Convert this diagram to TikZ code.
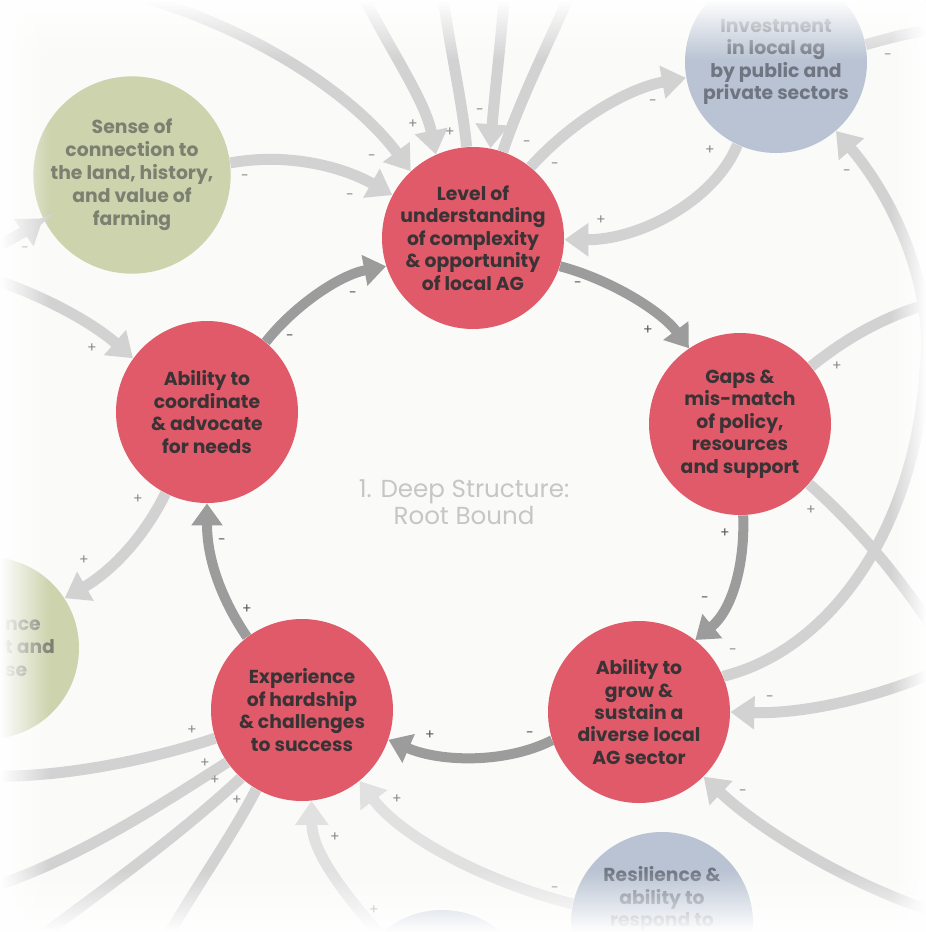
\documentclass[tikz,border=0pt]{standalone}
\usepackage{fontspec}
\setmainfont{Poppins}
\usepackage{tikz}
\usetikzlibrary{arrows.meta}
\usetikzlibrary{fadings}

\definecolor{bgwhite}{HTML}{FAFAF8}
\definecolor{corered}{HTML}{E05A69}
\definecolor{coretext}{HTML}{3A3336}
\definecolor{sagegreen}{HTML}{CCD3AD}
\definecolor{sagetext}{HTML}{7C8070}
\definecolor{slateblue}{HTML}{B9C3D3}
\definecolor{slatetext}{HTML}{6F7682}
\definecolor{loopgrey}{HTML}{9C9C9C}
\definecolor{sidegrey}{HTML}{D2D2D2}
\definecolor{palegrey}{HTML}{E1E1E1}
\definecolor{titlegrey}{HTML}{C6C6C6}
\definecolor{signdark}{HTML}{555555}
\definecolor{signgrey}{HTML}{8A8A8A}

\tikzstyle{mainline} = [draw=loopgrey, line width=5pt, -{Triangle[length=11pt,width=15pt]}]
\tikzstyle{sideline} = [draw=sidegrey, line width=5.5pt, -{Triangle[length=12pt,width=16pt]}]
\tikzstyle{paleline} = [draw=palegrey, line width=5.5pt, -{Triangle[length=12pt,width=16pt]}]
\tikzstyle{tailline} = [draw=sidegrey, line width=5.5pt]

\tikzfading[name=fadetop, top color=transparent!0, bottom color=transparent!100]
\tikzfading[name=fadebottom, top color=transparent!100, bottom color=transparent!0]
\tikzfading[name=fadeleft, left color=transparent!0, right color=transparent!100]
\tikzfading[name=faderight, left color=transparent!100, right color=transparent!0]

\begin{document}
\begin{tikzpicture}[x=0.5pt, y=-0.5pt,
		core/.style = {circle, fill=corered, minimum size=91pt, inner sep=0pt,
			align=center, text=coretext, font=\bfseries\fontsize{9.4}{11.2}\selectfont},
		sage/.style = {circle, fill=sagegreen, minimum size=91pt, inner sep=0pt,
			align=center, text=sagetext, font=\bfseries\fontsize{9.4}{11.5}\selectfont},
		slate/.style = {circle, fill=slateblue, minimum size=91pt, inner sep=0pt,
			align=center, text=slatetext, font=\bfseries\fontsize{9.4}{11.2}\selectfont},
		sign/.style = {inner sep=0pt, font=\fontsize{7}{7}\selectfont}]
	
	\useasboundingbox (0,0) rectangle (926,932);
	\clip (0,0) rectangle (926,932);
	\fill[bgwhite] (0,0) rectangle (926,932);
	
	% Loop variables
	\node[core] (level) at (473,238) {Level of\\understanding\\of complexity\\\& opportunity\\of local AG};
	\node[core] (gaps) at (740,424) {Gaps \&\\mis-match\\of policy,\\resources\\and support};
	\node[core] (grow) at (639,712) {Ability to\\grow \&\\sustain a\\diverse local\\AG sector};
	\node[core] (exper) at (302,710) {Experience\\of hardship\\\& challenges\\to success};
	\node[core] (coord) at (207,412) {Ability to\\coordinate\\\& advocate\\for needs};
	
	% Neighbouring variables
	\node[sage] (sense) at (132,175) {Sense of\\connection to\\the land, history,\\and value of\\farming};
	\node[sage] (greenleft) at (-12,648) {};
	\node[sage, anchor=west, minimum size=0pt, fill=none, align=left] (greenlefttxt) at (-8,648) {nce\\t and\\se};
	\node[slate] (invest) at (776,62) {Investment\\in local ag\\by public and\\private sectors};
	\node[slate] (resil) at (662,923) {};
	\node[slate, minimum size=0pt, fill=none] (resiltxt) at (662,899) {Resilience \&\\ability to\\respond to};
	\node[slate] (bluelow) at (442,1001) {};
	
	% Title
	\node[text=titlegrey, align=center, font=\fontsize{12.3}{13.5}\selectfont] (title) at (464,502) {1. Deep Structure:\\Root Bound};
	
	% Free ends at the edges
	\coordinate (nwA) at (115,-10);
	\coordinate (nA) at (360,-10);
	\coordinate (nB) at (442,-10);
	\coordinate (nC) at (505,-10);
	\coordinate (nD) at (572,-10);
	\coordinate (eA) at (935,30);
	\coordinate (eB) at (935,302);
	\coordinate (eC) at (935,632);
	\coordinate (eD) at (935,672);
	\coordinate (seA) at (935,912);
	\coordinate (sA) at (385,940);
	\coordinate (wA) at (-10,250);
	\coordinate (wB) at (-10,278);
	\coordinate (wC) at (-10,776);
	\coordinate (wD) at (-10,888);
	\coordinate (swA) at (15,955);
	\coordinate (swB) at (160,950);
	\coordinate (eastbend) at (925,370);
	
	% Main loop
	\path[mainline] (level.-18) .. controls (612,280) and (662,312) .. (gaps.124);
	\path[mainline] (gaps.-88) .. controls (745,565) and (732,610) .. (grow.52);
	\path[mainline] (grow.-162) .. controls (505,764) and (440,762) .. (exper.-19);
	\path[mainline] (exper.127) .. controls (222,600) and (207,560) .. (coord.-90);
	\path[mainline] (coord.50) .. controls (295,305) and (340,275) .. (level.198);
	
	% Links into level from the top and left
	\path[sideline] (sense.7) .. controls (290,152) and (345,168) .. (level.152);
	\path[sideline] (nwA) .. controls (240,20) and (350,90) .. (level.133);
	\path[sideline] (nA) .. controls (390,50) and (425,100) .. (level.114);
	\path[tailline] (level.94) .. controls (462,100) and (450,50) .. (nB);
	\path[sideline] (nC) .. controls (500,50) and (494,100) .. (level.79);
	\path[tailline] (level.71) .. controls (520,100) and (550,40) .. (nD);
	
	% Level and investment
	\path[sideline] (level.51) .. controls (575,118) and (630,88) .. (invest.190);
	\path[sideline] (invest.245) .. controls (715,200) and (640,240) .. (level.-1);
	\path[tailline] (invest.11) .. controls (890,38) and (910,32) .. (eA);
	\path[sideline] (grow.23) .. controls (830,650) and (915,530) .. (eastbend)
		.. controls (935,290) and (895,200) .. (invest.-49);
	
	% Right side
	\path[tailline] (gaps.39) .. controls (850,335) and (890,314) .. (eB);
	\path[tailline] (gaps.-41) .. controls (850,520) and (895,570) .. (eC);
	\path[sideline] (eD) .. controls (870,700) and (800,714) .. (grow.0);
	\path[sideline] (seA) .. controls (850,885) and (760,830) .. (grow.-45);
	
	% Bottom
	\path[paleline] (resil.168) .. controls (480,880) and (400,835) .. (exper.-51);
	\path[paleline] (sA) .. controls (340,890) and (312,850) .. (exper.-84);
	\path[tailline] (exper.198) .. controls (150,760) and (60,778) .. (wC);
	\path[tailline] (exper.215) .. controls (160,805) and (80,858) .. (wD);
	\path[tailline] (exper.228) .. controls (180,835) and (90,900) .. (swA);
	\path[tailline] (exper.240) .. controls (230,840) and (190,895) .. (swB);
	
	% Left side
	\path[sideline] (wA) .. controls (10,240) and (30,228) .. (sense.206);
	\path[sideline] (wB) .. controls (50,298) and (95,325) .. (coord.144);
	\path[sideline] (coord.243) .. controls (140,545) and (105,575) .. (greenleft.33);
	
	% Polarity of the loop
	\foreach \pos/\sgn [count=\i] in {(578,285)/-, (648,330)/+, (725,533)/+, (705,600)/-,
		(530,735)/-, (430,735)/+, (247,609)/+, (222,542)/-, (290,338)/-, (353,295)/-}
	\node[sign, text=signdark] (loop\i) at \pos {\sgn};
	
	% Polarity of the other links
	\foreach \pos/\sgn [count=\i] in {(245,178)/-, (350,197)/-, (372,158)/-, (413,124)/+,
		(450,132)/+, (480,112)/-, (527,144)/-, (555,166)/-, (653,103)/-, (710,150)/+,
		(601,220)/+, (888,57)/-, (847,173)/-, (837,366)/+, (811,510)/+, (733,652)/-,
		(770,699)/-, (743,793)/-, (397,799)/+, (555,890)/-, (335,837)/+, (374,910)/+,
		(192,730)/+, (205,763)/+, (215,780)/+, (237,800)/+, (25,250)/-, (92,348)/+,
		(138,499)/+, (84,560)/+}
	\node[sign, text=signgrey] (side\i) at \pos {\sgn};
	
	% Faded edges
	\fill[white, path fading=fadetop] (0,0) rectangle (926,60);
	\fill[white, path fading=fadebottom] (0,870) rectangle (926,932);
	\fill[white, path fading=fadeleft] (0,0) rectangle (50,932);
	\fill[white, path fading=faderight] (890,0) rectangle (926,932);
\end{tikzpicture}
\end{document}
